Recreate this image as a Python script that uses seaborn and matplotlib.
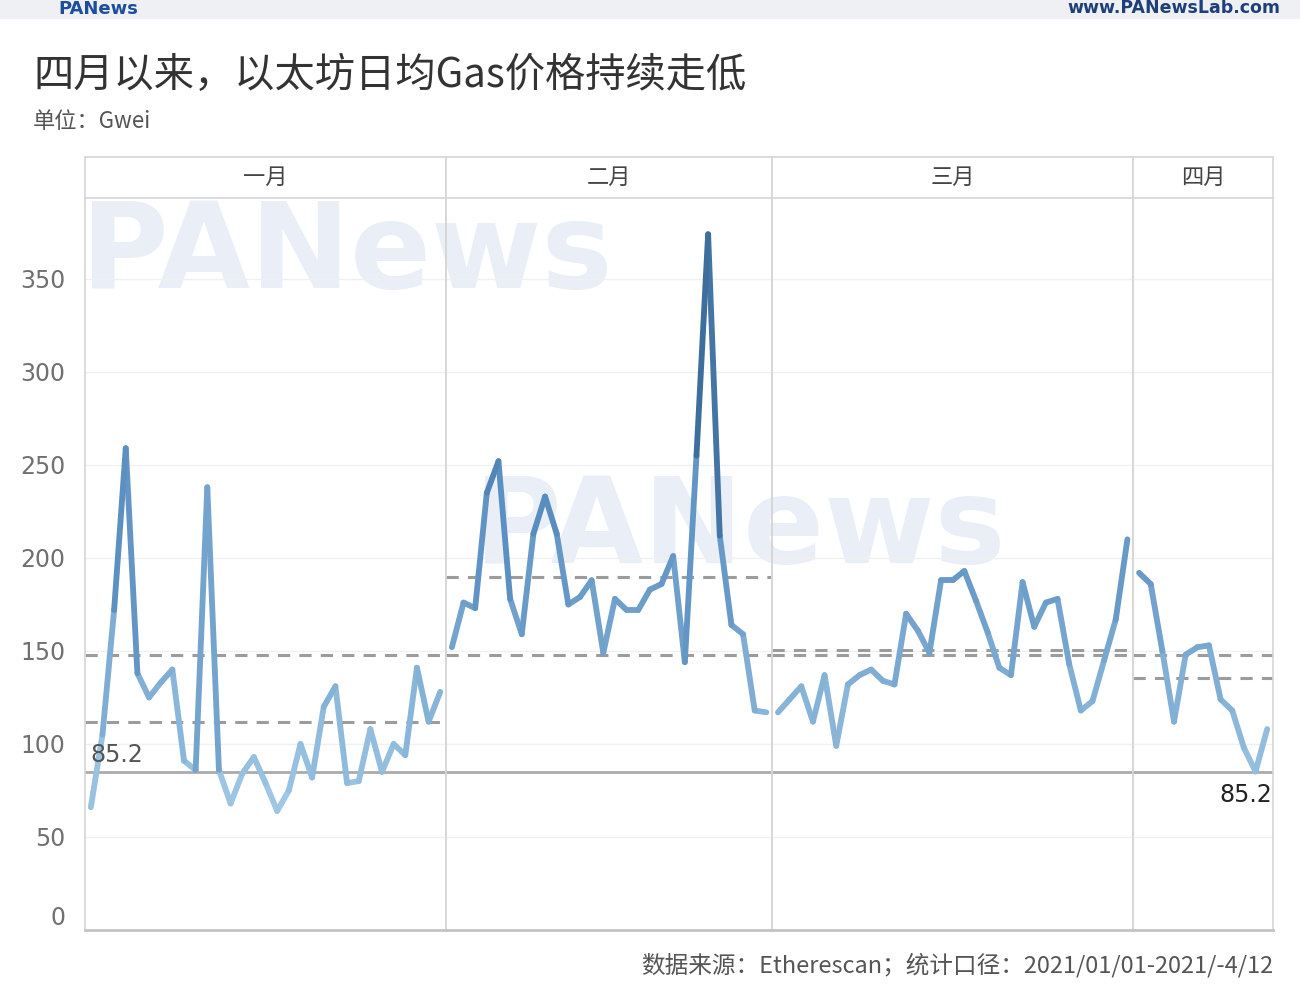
import numpy as np
import pandas as pd
import matplotlib.pyplot as plt
import seaborn as sns
from matplotlib.colors import LinearSegmentedColormap
from matplotlib.patches import Rectangle

# daily average gas price (Gwei)
jan = [66, 105, 172, 259, 138, 125, 133, 140, 91, 86, 238, 86, 68, 84, 93, 79,
       64, 75, 100, 82, 120, 131, 79, 80, 108, 85, 100, 94, 141, 112, 128]
feb = [152, 176, 173, 235, 252, 178, 159, 213, 233, 213, 175, 179, 188, 149,
       178, 172, 172, 183, 186, 201, 144, 255, 374, 212, 164, 159, 118, 117]
mar = [117, 124, 131, 112, 137, 99, 132, 137, 140, 134, 132, 170, 161, 149,
       188, 188, 193, 177, 160, 141, 137, 187, 163, 176, 178, 143, 118, 123,
       145, 167, 210]
apr = [192, 186, 150, 112, 148, 152, 153, 124, 118, 98, 85.2, 108]

months = ["一月", "二月", "三月", "四月"]
series = [jan, feb, mar, apr]
min_line = 85.2
y_ticks = [0, 50, 100, 150, 200, 250, 300, 350]

title = "四月以来，以太坊日均Gas价格持续走低"
subtitle = "单位：Gwei"
footer = "数据来源：Etherescan；统计口径：2021/01/01-2021/-4/12"

sns.set_theme(style="white")
plt.rcParams["font.family"] = ["Noto Sans CJK SC", "DejaVu Sans"]

cmap = LinearSegmentedColormap.from_list("tab_blue", ["#a2cbe6", "#5b8fc1", "#2c5984"])
overall_avg = np.mean(np.concatenate([np.array(s, dtype=float) for s in series]))

fig = plt.figure(figsize=(13, 10), dpi=100)
fig.patch.set_facecolor("white")

L, R = 85 / 1300, 1273 / 1300
B, T, HT = 0.07, 0.802, 0.843
total = sum(len(s) for s in series)
grid_col = "#d6d6d6"

# faint watermark, behind the axes
fig.text(347 / 1300, 1 - 255 / 1000, "PANews", fontsize=86, fontweight="bold",
         family="DejaVu Sans", color="#eaeff7", ha="center", va="center", zorder=-1)
fig.text(740 / 1300, 1 - 530 / 1000, "PANews", fontsize=86, fontweight="bold",
         family="DejaVu Sans", color="#eaeff7", ha="center", va="center", zorder=-1)

cum = 0
for k, (name, vals) in enumerate(zip(months, series)):
    n = len(vals)
    x0 = L + (R - L) * cum / total
    w = (R - L) * n / total
    cum += n

    ax = fig.add_axes([x0, B, w, T - B])
    ax.patch.set_alpha(0)

    # split the month into two-point segments so each gets its own shade
    rows = []
    for i in range(n - 1):
        c = (vals[i] + vals[i + 1]) / 2
        rows.append((i, i, vals[i], c))
        rows.append((i, i + 1, vals[i + 1], c))
    seg = pd.DataFrame(rows, columns=["seg", "day", "gwei", "shade"])

    ax.axhline(min_line, color="#ababab", lw=2, zorder=1)
    ax.axhline(overall_avg, color="#9c9c9c", lw=2.2, ls=(0, (4, 3)), zorder=1)
    ax.axhline(np.mean(vals), color="#9c9c9c", lw=2.2, ls=(0, (4, 3)), zorder=1)

    sns.lineplot(data=seg, x="day", y="gwei", hue="shade", units="seg",
                 estimator=None, palette=cmap, hue_norm=(60, 375), lw=4.2,
                 solid_capstyle="round", legend=False, ax=ax, zorder=3)

    ax.set_xlim(-0.5, n - 0.5)
    ax.set_ylim(0, 393.5)
    ax.set_xticks([])
    ax.set_yticks(y_ticks)
    ax.grid(axis="y", color="#f0f0f0", lw=1)
    ax.set_xlabel("")
    ax.set_ylabel("")
    ax.spines["top"].set_visible(False)
    for s in ["left", "right"]:
        ax.spines[s].set_color(grid_col)
        ax.spines[s].set_linewidth(1.2)
    ax.spines["bottom"].set_color("#c4c4c4")
    ax.spines["bottom"].set_linewidth(2)

    if k == 0:
        ax.tick_params(axis="y", length=0, pad=14, labelsize=17, labelcolor="#707070")
        for lab in ax.get_yticklabels():
            lab.set_family("DejaVu Sans")
        ax.get_yticklabels()[0].set_va("bottom")
        ax.text(0.0, min_line + 2.5, "85.2", fontsize=17, color="#555555",
                family="DejaVu Sans", ha="left", va="bottom")
    else:
        ax.tick_params(axis="y", length=0, labelleft=False)
    if k == len(series) - 1:
        ax.text(n - 0.6, min_line - 6, "85.2", fontsize=17, color="#222222",
                family="DejaVu Sans", ha="right", va="top")

    hax = fig.add_axes([x0, T, w, HT - T])
    hax.set_xticks([])
    hax.set_yticks([])
    for s in hax.spines.values():
        s.set_color(grid_col)
        s.set_linewidth(1.2)
    hax.text(0.5, 0.5, name, fontsize=16, color="#444444", ha="center", va="center",
             transform=hax.transAxes)

# top banner
fig.add_artist(Rectangle((0, 1 - 18 / 1000), 1, 18 / 1000, transform=fig.transFigure,
                         color="#eef0f4", zorder=0))
fig.text(58 / 1300, 1 - 9 / 1000, "PANews", fontsize=13, fontweight="bold",
         family="DejaVu Sans", color="#1d4e9e", ha="left", va="center")
fig.text(1280 / 1300, 1 - 8 / 1000, "www.PANewsLab.com", fontsize=12.5, fontweight="bold",
         family="DejaVu Sans", color="#1f3f7a", ha="right", va="center")

fig.text(33 / 1300, 1 - 75 / 1000, title, fontsize=29, color="#333333", va="center")
fig.text(33 / 1300, 1 - 121 / 1000, subtitle, fontsize=16, color="#555555", va="center")
fig.text(1273 / 1300, 1 - 965 / 1000, footer, fontsize=17, color="#555555",
         ha="right", va="center")

fig.savefig("out.png", dpi=100)
